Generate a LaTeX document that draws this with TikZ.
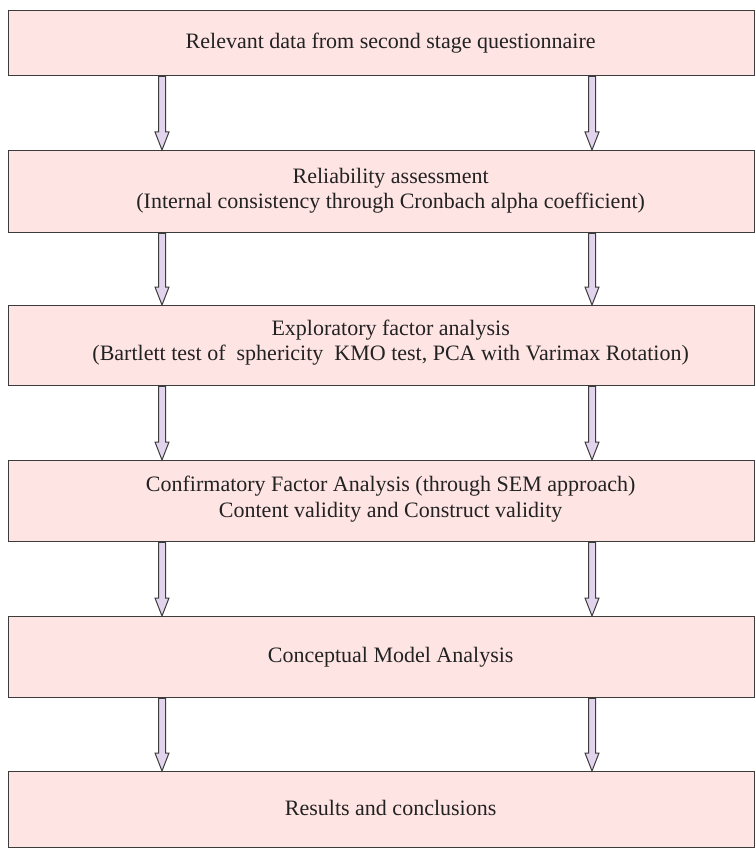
\documentclass[tikz,border=0pt]{standalone}
\usepackage{fontspec}
\setmainfont{Liberation Serif}
\usetikzlibrary{calc}
\definecolor{boxfill}{HTML}{FFE4E4}
\definecolor{boxline}{HTML}{3C3C3C}
\definecolor{arrowfill}{HTML}{E2D4EC}
\definecolor{textgray}{HTML}{222222}
\tikzset{
  stagebox/.style={draw=boxline, line width=1.3pt, fill=boxfill, rectangle,
    minimum width=746pt, inner sep=0pt, anchor=north west},
  stagetext/.style={text=textgray, align=center, font=\fontsize{22}{25.5}\selectfont},
  flowarrow/.style={draw=boxline, line width=1pt, fill=arrowfill, line join=miter},
}
% hollow block arrow from #1 down to #2
\newcommand\blockarrow[2]{%
  \draw[flowarrow] let \p1=(#1), \p2=(#2) in
    (\x1-3.5pt,\y1) -- (\x1-3.5pt,\y2+18pt) -- (\x1-7pt,\y2+18pt) -- (\x1,\y2)
    -- (\x1+7pt,\y2+18pt) -- (\x1+3.5pt,\y2+18pt) -- (\x1+3.5pt,\y1) -- cycle;}
\begin{document}
\begin{tikzpicture}[x=1pt,y=-1pt]
  \useasboundingbox (0,0) rectangle (755,848);

  \node[stagebox, minimum height=65pt] (b1) at (8,10) {};
  \node[stagebox, minimum height=82pt] (b2) at (8,150) {};
  \node[stagebox, minimum height=80pt] (b3) at (8,305) {};
  \node[stagebox, minimum height=81pt] (b4) at (8,460) {};
  \node[stagebox, minimum height=81pt] (b5) at (8,616) {};
  \node[stagebox, minimum height=76pt] (b6) at (8,771) {};

  \node[stagetext] (t1) at ([xshift=9pt]b1.center) {Relevant data from second stage questionnaire};
  \node[stagetext] (t2) at ([xshift=9pt,yshift=1pt]b2.center) {Reliability assessment\\(Internal consistency through Cronbach alpha coefficient)};
  \node[stagetext] (t3) at ([xshift=9pt,yshift=3pt]b3.center) {Exploratory factor analysis\\(Bartlett test of~ sphericity~ KMO test, PCA with Varimax Rotation)};
  \node[stagetext] (t4) at ([xshift=9pt,yshift=2pt]b4.center) {Confirmatory Factor Analysis (through SEM approach)\\Content validity and Construct validity};
  \node[stagetext] (t5) at ([xshift=9pt]b5.center) {Conceptual Model Analysis};
  \node[stagetext] (t6) at ([xshift=9pt,yshift=2pt]b6.center) {Results and conclusions};

  \coordinate (colL) at (162,0);
  \coordinate (colR) at (592,0);

  \foreach \a/\b in {b1/b2,b2/b3,b3/b4,b4/b5,b5/b6}{
    \blockarrow{\a.south -| colL}{\b.north -| colL}
    \blockarrow{\a.south -| colR}{\b.north -| colR}
  }
\end{tikzpicture}
\end{document}
